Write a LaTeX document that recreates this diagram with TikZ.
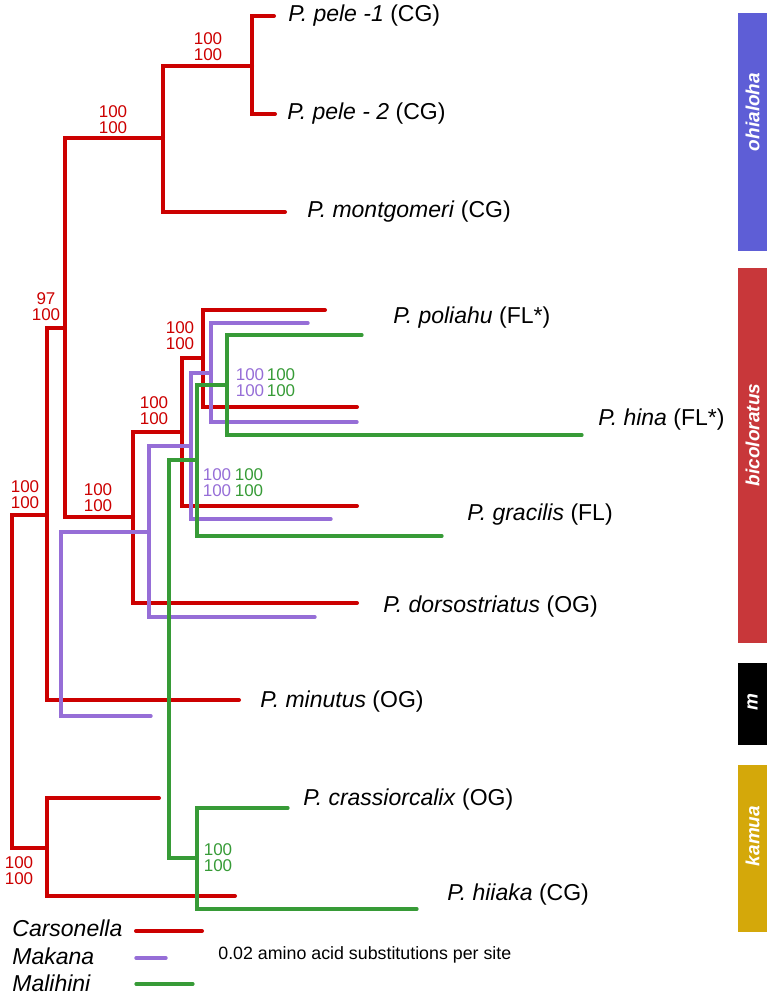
\documentclass[tikz,border=0pt]{standalone}
\usepackage{fontspec}
\setmainfont{Liberation Sans}

\definecolor{carso}{RGB}{204,0,0}
\definecolor{makana}{RGB}{150,110,215}
\definecolor{malihini}{RGB}{55,155,55}
\definecolor{ohia}{RGB}{94,94,214}
\definecolor{bico}{RGB}{200,55,58}
\definecolor{kamu}{RGB}{212,168,10}

\tikzset{
  carsonella/.style={draw=carso,line width=2pt,line cap=round},
  makanaline/.style={draw=makana,line width=1.7pt,line cap=round},
  malihiniline/.style={draw=malihini,line width=1.6pt,line cap=round},
  boot/.style={font=\fontsize{8.5}{8}\selectfont,align=center,inner sep=0pt},
  taxon/.style={anchor=west,inner sep=0pt,font=\fontsize{11.5}{12}\selectfont},
  legendtext/.style={anchor=west,inner sep=0pt,font=\fontsize{11.5}{12}\selectfont\itshape},
  bartext/.style={rotate=90,text=white,inner sep=0pt,font=\fontsize{9.5}{10}\selectfont\bfseries\itshape}
}

\begin{document}
\begin{tikzpicture}[x=0.5pt,y=-0.5pt]

\useasboundingbox (0,0) rectangle (772,996);

%carsonella
\coordinate (r0) at (12,681);
\coordinate (rb) at (47,515);
\coordinate (ra) at (65,328);
\coordinate (rohia) at (163,138);
\coordinate (rpele) at (252,66);
\coordinate (rbico) at (133,517);
\coordinate (rc1) at (182,432);
\coordinate (rc2) at (203,358);
\coordinate (rkamua) at (47,848);
\path[carsonella] (r0) |- (rb);
\path[carsonella] (r0) |- (rkamua);
\path[carsonella] (rb) |- (ra);
\path[carsonella] (rb) |- (239,700);
\path[carsonella] (ra) |- (rohia);
\path[carsonella] (ra) |- (rbico);
\path[carsonella] (rohia) |- (rpele);
\path[carsonella] (rohia) |- (285,212);
\path[carsonella] (rpele) |- (274,16);
\path[carsonella] (rpele) |- (275,114);
\path[carsonella] (rbico) |- (rc1);
\path[carsonella] (rbico) |- (357,603);
\path[carsonella] (rc1) |- (rc2);
\path[carsonella] (rc1) |- (357,506);
\path[carsonella] (rc2) |- (325,310);
\path[carsonella] (rc2) |- (357,407);
\path[carsonella] (rkamua) |- (159,798);
\path[carsonella] (rkamua) |- (235,896);

%makana
\coordinate (p0) at (61,624);
\coordinate (p1) at (149,532);
\coordinate (p2) at (191,446);
\coordinate (p3) at (211,373);
\path[makanaline] (p0) |- (p1);
\path[makanaline] (p0) |- (151,716);
\path[makanaline] (p1) |- (p2);
\path[makanaline] (p1) |- (315,617);
\path[makanaline] (p2) |- (p3);
\path[makanaline] (p2) |- (331,519);
\path[makanaline] (p3) |- (308,323);
\path[makanaline] (p3) |- (357,422);

%malihini
\coordinate (g0) at (169,659);
\coordinate (g1) at (197,460);
\coordinate (g2) at (227,385);
\coordinate (gk) at (197,858);
\path[malihiniline] (g0) |- (g1);
\path[malihiniline] (g0) |- (gk);
\path[malihiniline] (g1) |- (g2);
\path[malihiniline] (g1) |- (442,536);
\path[malihiniline] (g2) |- (362,335);
\path[malihiniline] (g2) |- (582,435);
\path[malihiniline] (gk) |- (288,808);
\path[malihiniline] (gk) |- (417,909);

%support values
\node[boot,text=carso] (bpele) at (208,47) {100\\100};
\node[boot,text=carso] (bohia) at (113,120) {100\\100};
\node[boot,text=carso] (ba) at (46,307) {97\\100};
\node[boot,text=carso] (bbico) at (98,498) {100\\100};
\node[boot,text=carso] (bc1) at (154,411) {100\\100};
\node[boot,text=carso] (bc2) at (180,336) {100\\100};
\node[boot,text=carso] (broot) at (25,495) {100\\100};
\node[boot,text=carso] (bkamua) at (19,871) {100\\100};
\node[boot,text=makana] (bp3) at (250,383) {100\\100};
\node[boot,text=malihini] (bg2) at (281,383) {100\\100};
\node[boot,text=makana] (bp2) at (217,483) {100\\100};
\node[boot,text=malihini] (bg1) at (249,483) {100\\100};
\node[boot,text=malihini] (bgk) at (218,858) {100\\100};

%taxa
\node[taxon] (pele1) at (288,16) {\textit{P. pele -1} (CG)};
\node[taxon] (pele2) at (287,114) {\textit{P. pele - 2} (CG)};
\node[taxon] (montg) at (307,212) {\textit{P. montgomeri} (CG)};
\node[taxon] (poli) at (393,318) {\textit{P. poliahu} (FL*)};
\node[taxon] (hina) at (598,420) {\textit{P. hina} (FL*)};
\node[taxon] (grac) at (467,515) {\textit{P. gracilis} (FL)};
\node[taxon] (dorso) at (383,607) {\textit{P. dorsostriatus} (OG)};
\node[taxon] (minu) at (260,702) {\textit{P. minutus} (OG)};
\node[taxon] (crass) at (303,800) {\textit{P. crassiorcalix} (OG)};
\node[taxon] (hiia) at (447,895) {\textit{P. hiiaka} (CG)};

%clades
\fill[ohia] (738,13) rectangle (767,251);
\node[bartext] (tohia) at (752.5,112) {ohialoha};
\fill[bico] (738,268) rectangle (767,643);
\node[bartext] (tbico) at (752.5,435) {bicoloratus};
\fill[black] (738,663) rectangle (767,745);
\node[bartext] (tm) at (752.5,702) {m};
\fill[kamu] (738,765) rectangle (767,932);
\node[bartext] (tkamua) at (752.5,836) {kamua};

%legend
\node[legendtext] (lcarso) at (12,928) {Carsonella};
\node[legendtext] (lmakana) at (12,956) {Makana};
\node[legendtext] (lmali) at (12,983) {Malihini};
\path[carsonella] (136,931) -- (202,931);
\path[makanaline] (136,958) -- (166,958);
\path[malihiniline] (136,984) -- (193,984);
\node[anchor=west,inner sep=0pt,font=\fontsize{8.9}{9}\selectfont] (scale) at (218,955) {0.02 amino acid substitutions per site};

\end{tikzpicture}
\end{document}
